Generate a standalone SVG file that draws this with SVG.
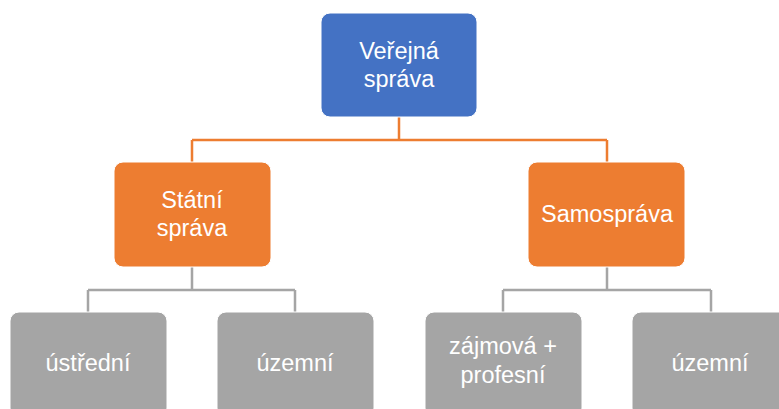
<svg xmlns="http://www.w3.org/2000/svg" width="779" height="409" viewBox="0 0 779 409">
<style>
.box{stroke:#ffffff;stroke-width:1}
.blue{fill:#4472C4}
.orange{fill:#ED7D31}
.gray{fill:#A5A5A5}
.lbl{font-family:"Liberation Sans",Arial,sans-serif;font-size:23.5px;fill:#ffffff;text-anchor:middle}
.c1{fill:none;stroke:#ED7D31;stroke-width:2.5}
.c2{fill:none;stroke:#A5A5A5;stroke-width:2.5}
</style>
<rect width="779" height="409" fill="#ffffff"/>
<g id="connectors">
<path class="c1" d="M399 117V140M192 140H607M192 140V162M607 140V162"/>
<path class="c2" d="M192 267V290M88 290H295M88 290V312M295 290V312"/>
<path class="c2" d="M607 267V290M503 290H711M503 290V312M711 290V312"/>
</g>
<g id="verejna-sprava">
<rect class="box blue" x="321" y="13" width="156" height="104" rx="9"/>
<text class="lbl" x="399" y="59">Veřejná</text>
<text class="lbl" x="399" y="87">správa</text>
</g>
<g id="statni-sprava">
<rect class="box orange" x="114" y="162" width="157" height="105" rx="9"/>
<text class="lbl" x="192" y="208">Státní</text>
<text class="lbl" x="192" y="236">správa</text>
</g>
<g id="samosprava">
<rect class="box orange" x="528" y="162" width="157" height="105" rx="9"/>
<text class="lbl" x="607" y="222">Samospráva</text>
</g>
<g id="ustredni">
<rect class="box gray" x="10" y="312" width="157" height="105" rx="9"/>
<text class="lbl" x="88" y="371">ústřední</text>
</g>
<g id="uzemni-1">
<rect class="box gray" x="217" y="312" width="157" height="105" rx="9"/>
<text class="lbl" x="295" y="371">územní</text>
</g>
<g id="zajmova-profesni">
<rect class="box gray" x="425" y="312" width="157" height="105" rx="9"/>
<text class="lbl" x="503" y="354">zájmová +</text>
<text class="lbl" x="503" y="383">profesní</text>
</g>
<g id="uzemni-2">
<rect class="box gray" x="632" y="312" width="157" height="105" rx="9"/>
<text class="lbl" x="710" y="371">územní</text>
</g>
</svg>
